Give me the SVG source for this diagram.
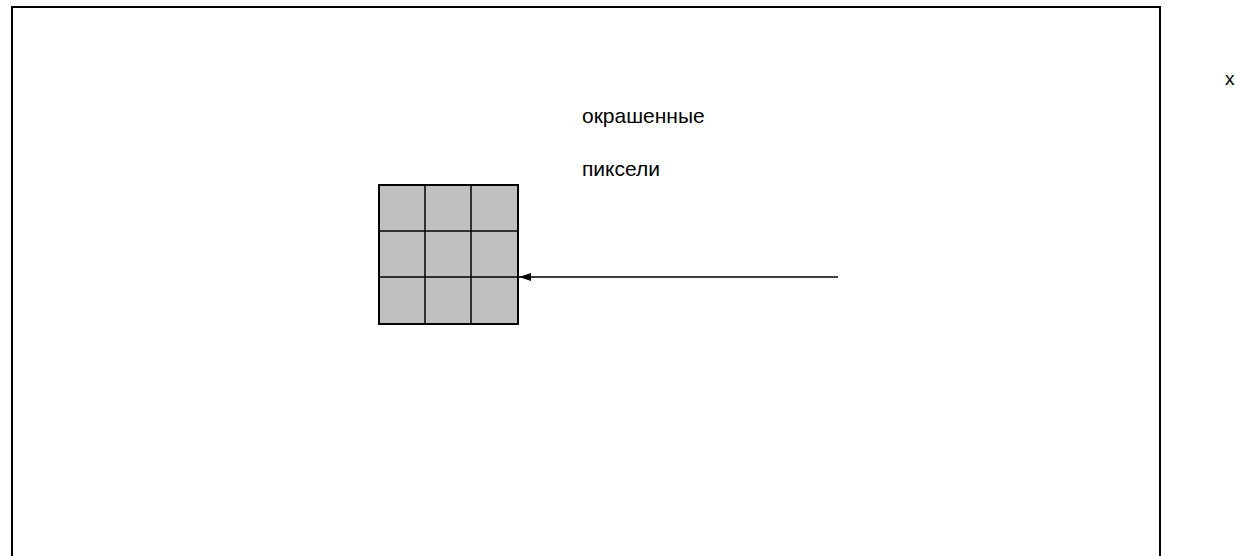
<svg xmlns="http://www.w3.org/2000/svg" width="1235" height="556" viewBox="0 0 1235 556">
<defs>
<style>
.t{font-family:"Liberation Sans",Arial,sans-serif;font-size:21px;fill:#000}
</style>
<marker id="ah" viewBox="0 0 12 8" refX="12" refY="4" markerWidth="12" markerHeight="8" markerUnits="userSpaceOnUse" orient="auto">
<path d="M0,0 L12,4 L0,8 Z" fill="#000"/>
</marker>
</defs>
<rect x="0" y="0" width="1235" height="556" fill="#fff"/>
<g id="frame"><path d="M12,570 V7 H1160 V570" fill="none" stroke="#000" stroke-width="2"/></g>
<g id="grid">
<rect x="379" y="185" width="139" height="139" fill="#c0c0c0" stroke="#000" stroke-width="2"/>
<path d="M425,185V324M471,185V324M379,231H518M379,277H518" stroke="#000" stroke-width="1.5" fill="none"/>
</g>
<g id="label"><text class="t" x="582" y="123">окрашенные</text><text class="t" x="582" y="176">пиксели</text></g>
<g id="xlabel"><text class="t" x="1225" y="85" style="font-size:19px">x</text></g>
<g id="connectors"><line x1="838" y1="277" x2="519" y2="277" stroke="#000" stroke-width="1.5" marker-end="url(#ah)"/></g>
</svg>
